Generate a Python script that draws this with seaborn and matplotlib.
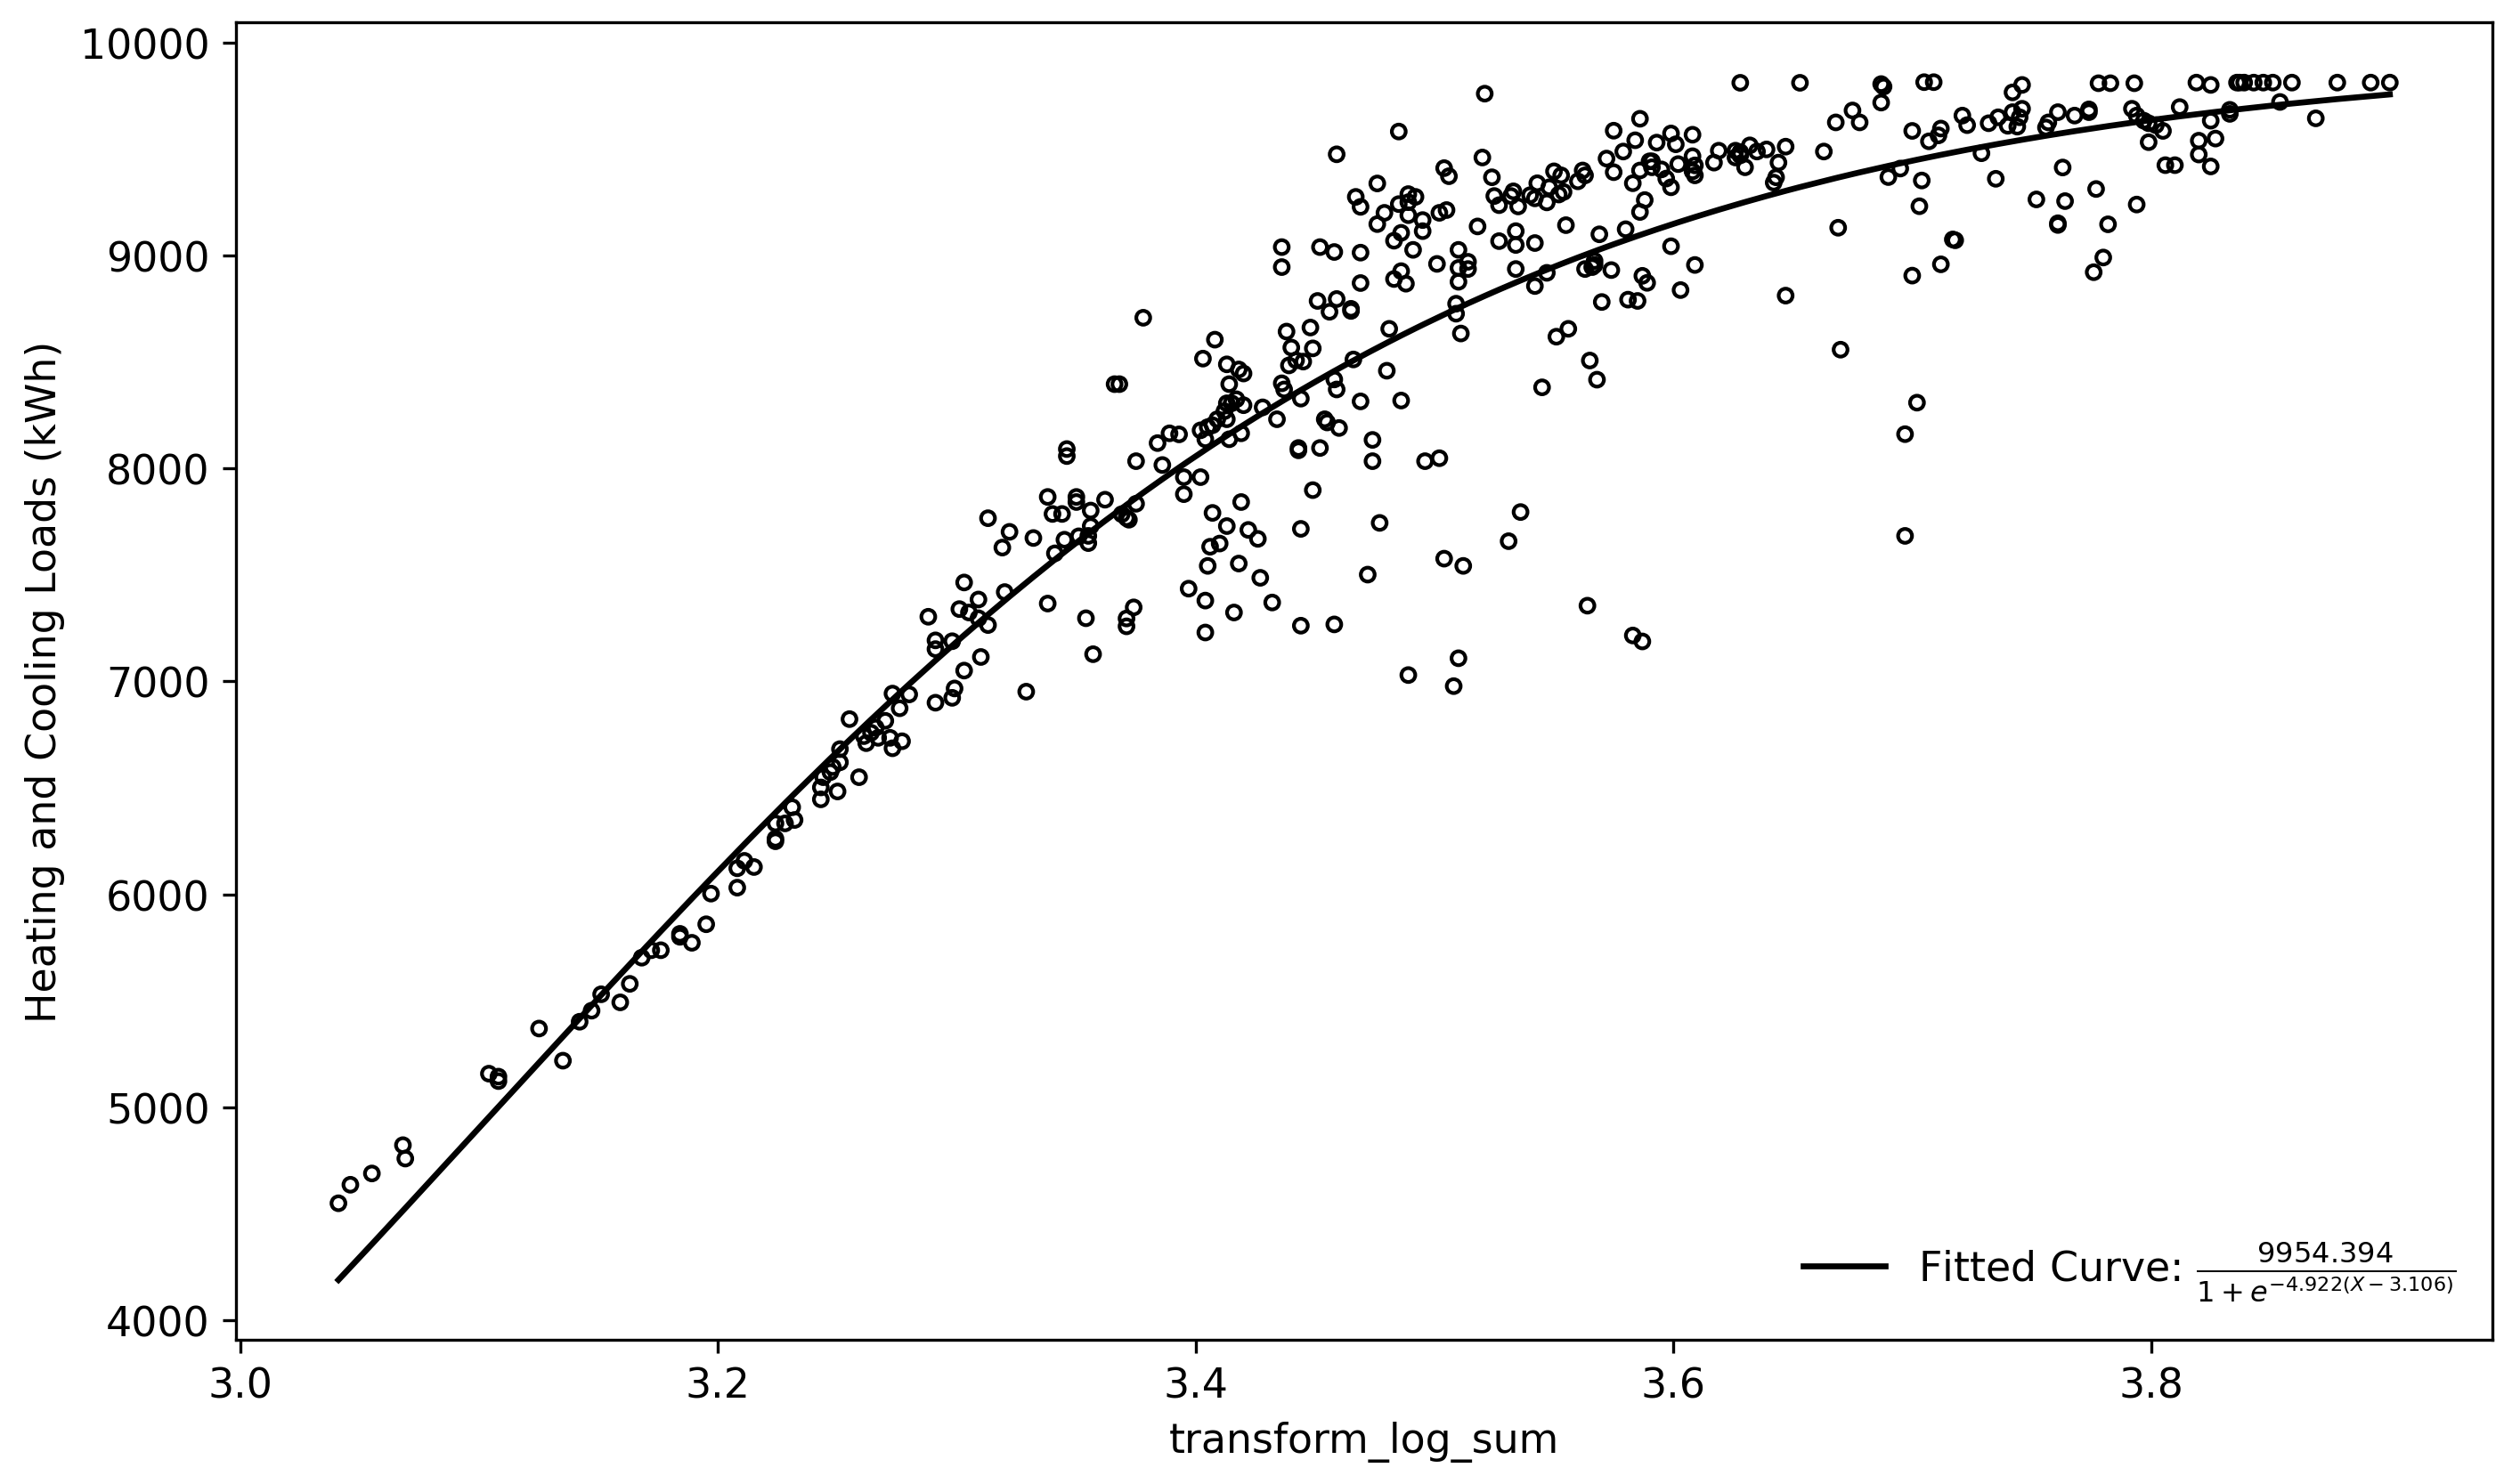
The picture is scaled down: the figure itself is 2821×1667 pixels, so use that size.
import numpy as np
import pandas as pd
import matplotlib
matplotlib.use("Agg")
import matplotlib.pyplot as plt
import seaborn as sns

# values
log_sum = [
    3.041, 3.046, 3.055, 3.068, 3.069, 3.104, 3.108, 3.108, 3.125, 3.135, 3.142, 3.147, 3.151, 3.159,
    3.163, 3.168, 3.172, 3.176, 3.184, 3.184, 3.189, 3.195, 3.197, 3.208, 3.208, 3.211, 3.215,
    3.224, 3.224, 3.224, 3.228, 3.231, 3.232, 3.243, 3.243, 3.244, 3.247, 3.248, 3.251, 3.251, 3.250,
    3.259, 3.255, 3.261, 3.262, 3.264, 3.266, 3.267, 3.270, 3.272, 3.273, 3.277, 3.273, 3.276, 3.280,
    3.291, 3.298, 3.299, 3.303, 3.310, 3.288, 3.291, 3.291, 3.298, 3.301, 3.305, 3.309, 3.303, 3.309,
    3.313, 3.320, 3.313, 3.319, 3.322, 3.332, 3.338, 3.329, 3.341, 3.345, 3.338, 3.340, 3.344, 3.350,
    3.350, 3.356, 3.356, 3.355, 3.355, 3.351, 3.362, 3.354, 3.357, 3.346, 3.346,
    3.485, 3.459, 3.504, 3.506, 3.476, 3.467, 3.469, 3.489, 3.492, 3.489, 3.485, 3.489, 3.479, 3.476,
    3.495, 3.495, 3.502, 3.505, 3.486, 3.483, 3.491, 3.501, 3.510, 3.510, 3.510, 3.514, 3.486, 3.483,
    3.488, 3.469, 3.469, 3.458, 3.452, 3.436, 3.436, 3.451, 3.459, 3.456, 3.465, 3.465, 3.509, 3.509,
    3.511, 3.481, 3.466, 3.448, 3.438, 3.440, 3.449, 3.442, 3.445, 3.439, 3.436, 3.437, 3.444, 3.458,
    3.459, 3.469, 3.480, 3.486, 3.434, 3.428, 3.454, 3.455, 3.460, 3.474, 3.474, 3.443, 3.443, 3.452,
    3.496, 3.502, 3.449, 3.477, 3.444, 3.472, 3.504, 3.512, 3.444, 3.458, 3.489, 3.510, 3.508,
    3.378, 3.368, 3.366, 3.408, 3.403, 3.413, 3.418, 3.420, 3.414, 3.413, 3.415, 3.417, 3.420, 3.412,
    3.413, 3.409, 3.407, 3.405, 3.402, 3.404, 3.414, 3.419, 3.389, 3.393, 3.384, 3.386, 3.375, 3.395,
    3.402, 3.395, 3.375, 3.369, 3.371, 3.372, 3.407, 3.419, 3.413, 3.422, 3.426, 3.406, 3.410, 3.405,
    3.418, 3.427, 3.397, 3.404, 3.432, 3.416, 3.371, 3.374, 3.371, 3.404,
    3.514, 3.521, 3.520, 3.524, 3.525, 3.527, 3.532, 3.533, 3.535, 3.518, 3.527, 3.534, 3.534, 3.542,
    3.534, 3.542, 3.547, 3.540, 3.543, 3.542, 3.547, 3.548, 3.550, 3.553, 3.552, 3.554, 3.555, 3.560,
    3.562, 3.563, 3.572, 3.575, 3.579, 3.575, 3.584, 3.586, 3.583, 3.586, 3.590, 3.591, 3.591, 3.595,
    3.593, 3.599, 3.601, 3.597, 3.599, 3.608, 3.608, 3.609, 3.608, 3.609, 3.602, 3.588, 3.586, 3.569,
    3.580, 3.563, 3.567, 3.567, 3.566, 3.574, 3.570, 3.581, 3.585, 3.587, 3.589, 3.599, 3.603, 3.609,
    3.617, 3.619, 3.626, 3.628, 3.628, 3.626, 3.630, 3.632, 3.635, 3.639, 3.628, 3.653, 3.647, 3.644,
    3.643, 3.642, 3.663, 3.647, 3.551, 3.556, 3.565, 3.568, 3.545, 3.536, 3.531, 3.564, 3.583, 3.587,
    3.668, 3.675, 3.678, 3.687, 3.688, 3.687, 3.669, 3.670, 3.705, 3.709, 3.700, 3.707, 3.711, 3.712,
    3.690, 3.695, 3.704, 3.703, 3.717, 3.718, 3.712, 3.700, 3.702, 3.697, 3.697, 3.721, 3.723, 3.729,
    3.732, 3.736, 3.740, 3.742, 3.746, 3.742, 3.746, 3.745, 3.744, 3.735, 3.752, 3.757, 3.761, 3.756,
    3.768, 3.774, 3.774, 3.763, 3.764, 3.761, 3.761, 3.777, 3.782, 3.780, 3.776, 3.778, 3.783, 3.793,
    3.792, 3.794, 3.797, 3.799, 3.802, 3.805, 3.799, 3.794, 3.806, 3.810, 3.812,
    3.819, 3.825, 3.836, 3.837, 3.839, 3.843, 3.847, 3.851, 3.859, 3.878, 3.892, 3.900, 3.825, 3.820,
    3.827, 3.820, 3.825, 3.833, 3.833, 3.854, 3.869,
]
loads = [
    4548, 4635, 4688, 4821, 4758, 5157, 5143, 5122, 5369, 5218, 5401, 5453, 5530, 5492,
    5579, 5702, 5737, 5737, 5814, 5800, 5772, 5859, 6003, 6031, 6122, 6157, 6128,
    6261, 6249, 6333, 6333, 6409, 6349, 6446, 6502, 6550, 6574, 6598, 6620, 6682, 6483,
    6550, 6823, 6743, 6710, 6759, 6783, 6735, 6815, 6735, 6686, 6719, 6943, 6874, 6939,
    6900, 6923, 6967, 7051, 7115, 7304, 7193, 7152, 7189, 7340, 7324, 7385, 7465, 7297,
    7265, 7420, 7767, 7629, 7703, 7674, 7366, 6952, 7602, 7666, 7867, 7787, 7787, 7867,
    7843, 7803, 7730, 7684, 7650, 7682, 7854, 7297, 7128, 8059, 8092,
    9584, 9477, 9412, 9374, 9340, 9277, 9230, 9290, 9277, 9252, 9243, 9191, 9202, 9149,
    9168, 9116, 9202, 9215, 9108, 9071, 9028, 8962, 9028, 8943, 8878, 8972, 8928, 8891,
    8869, 9015, 8872, 9018, 9041, 9041, 8947, 8788, 8797, 8737, 8751, 8741, 8775, 8728,
    8635, 8657, 8513, 8663, 8644, 8569, 8565, 8509, 8503, 8485, 8401, 8372, 8329, 8419,
    8372, 8316, 8460, 8320, 8232, 8288, 8232, 8217, 8191, 8135, 8035, 8097, 8086, 8097,
    8035, 8049, 7899, 7745, 7717, 7502, 7577, 7543, 7262, 7268, 7030, 7109, 6978,
    8709, 8397, 8397, 8606, 8517, 8490, 8466, 8447, 8397, 8307, 8307, 8326, 8298, 8270,
    8232, 8232, 8204, 8195, 8180, 8138, 8138, 8166, 8166, 8161, 8120, 8017, 8035, 7960,
    7960, 7880, 7835, 7786, 7768, 7760, 7792, 7843, 7730, 7712, 7670, 7633, 7648, 7543,
    7554, 7487, 7436, 7380, 7371, 7324, 7296, 7348, 7259, 7230,
    8938, 9762, 9462, 9369, 9281, 9238, 9281, 9303, 9232, 9138, 9069, 9116, 9051, 9060,
    8938, 8858, 8920, 9285, 9341, 9270, 9251, 9322, 9397, 9378, 9288, 9300, 9144, 9350,
    9401, 9378, 9457, 9588, 9490, 9393, 9543, 9644, 9341, 9401, 9444, 9416, 9444, 9406,
    9532, 9575, 9524, 9363, 9322, 9569, 9468, 9425, 9397, 9378, 9431, 9262, 9206, 9101,
    9125, 8938, 8976, 8957, 8947, 8933, 8783, 8794, 8788, 8906, 8873, 9045, 8839, 8957,
    9438, 9494, 9494, 9472, 9487, 9462, 9416, 9519, 9490, 9500, 9813, 9813, 9513, 9438,
    9369, 9344, 9490, 8813, 8620, 8657, 8508, 8418, 8382, 7796, 7659, 7356, 7216, 7188,
    9627, 9683, 9627, 9807, 9795, 9720, 9132, 8559, 9816, 9816, 9587, 9538, 9566, 9598,
    9370, 9410, 9354, 9233, 9077, 9073, 8960, 8907, 8310, 8162, 7684, 9659, 9614, 9482,
    9623, 9651, 9611, 9768, 9803, 9675, 9691, 9651, 9607, 9362, 9265, 9627, 9675, 9603,
    9659, 9688, 9675, 9415, 9257, 9153, 9145, 9314, 9148, 8992, 8923, 9811, 9811, 9811,
    9691, 9659, 9635, 9623, 9614, 9587, 9534, 9241, 9426, 9426, 9699,
    9814, 9803, 9814, 9814, 9814, 9814, 9814, 9814, 9814, 9814, 9814, 9814, 9635, 9541,
    9551, 9476, 9420, 9686, 9667, 9723, 9646,
]

# logistic fit parameters shown in the legend
L, k, x0 = 9954.394, 4.922, 3.106

plt.rcParams["font.size"] = 11

df = pd.DataFrame({"transform_log_sum": log_sum, "load": loads})
x_fit = np.sort(df["transform_log_sum"].unique())
y_fit = L / (1 + np.exp(-k * (x_fit - x0)))

fig = plt.figure(figsize=(2821 / 300, 1668 / 300), dpi=300)
ax = fig.add_axes([0.0939, 0.0971, 0.8983, 0.8873])

sns.scatterplot(data=df, x="transform_log_sum", y="load", ax=ax, s=14,
                facecolor="none", edgecolor="black", linewidth=1.0)
sns.lineplot(x=x_fit, y=y_fit, ax=ax, color="black", linewidth=1.6, estimator=None,
             label=r"Fitted Curve: $\frac{9954.394}{1 + e^{-4.922(X - 3.106)}}$")

ax.set_xticks([3.0, 3.2, 3.4, 3.6, 3.8])
ax.set_xlabel("transform_log_sum")
ax.set_ylabel("Heating and Cooling Loads (kWh)")
ax.legend(loc="lower right", frameon=False)

fig.savefig("out.png", dpi=300)
